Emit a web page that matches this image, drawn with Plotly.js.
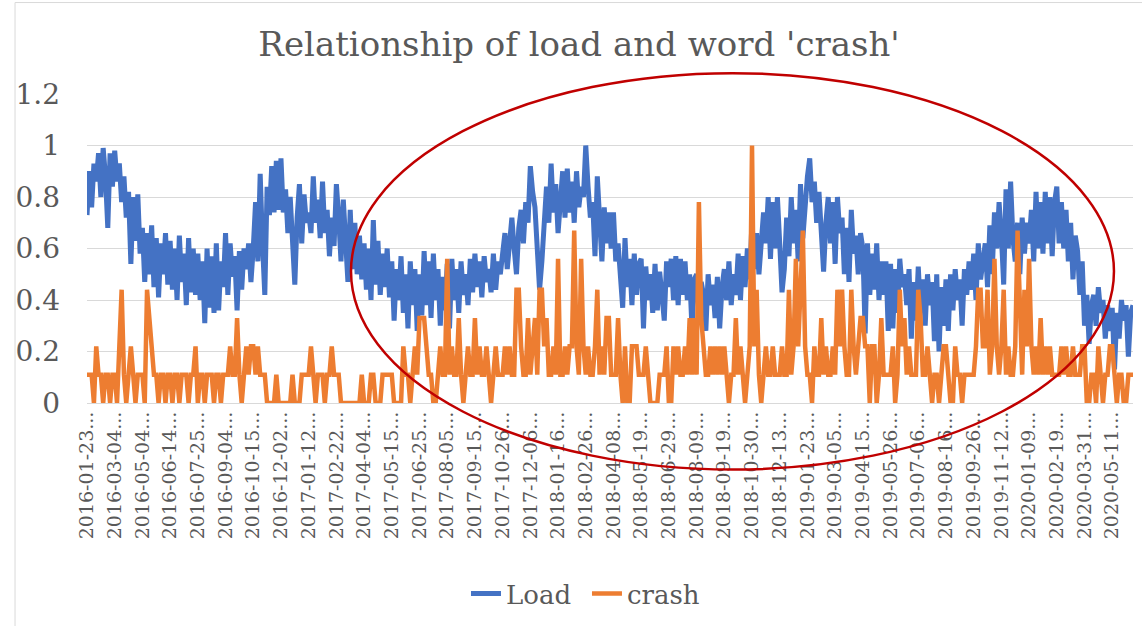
<!DOCTYPE html>
<html><head><meta charset="utf-8">
<script src="https://cdn.plot.ly/plotly-3.0.1.min.js"></script>
<style>html,body{margin:0;padding:0;background:#fff}</style>
</head><body><div id="chart" style="width:1142px;height:626px"></div>
<script>
const tickLabels = [
 '2016-01-23','2016-03-04','2016-05-04','2016-06-14','2016-07-25','2016-09-04','2016-10-15','2016-12-02',
 '2017-01-12','2017-02-22','2017-04-04','2017-05-15','2017-06-25','2017-08-05','2017-09-15','2017-10-26','2017-12-06',
 '2018-01-16','2018-02-26','2018-04-08','2018-05-19','2018-06-29','2018-08-09','2018-09-19','2018-10-30','2018-12-13',
 '2019-01-23','2019-03-05','2019-04-15','2019-05-26','2019-07-06','2019-08-16','2019-09-26','2019-11-12',
 '2020-01-09','2020-02-19','2020-03-31','2020-05-11'
];
const pointsPerLabel = 12;

const load = [
 0.73,0.90,0.76,0.93,0.86,0.97,0.80,0.99,0.88,0.68,0.97,0.84,
 0.98,0.86,0.93,0.78,0.88,0.72,0.82,0.54,0.80,0.63,0.81,0.58,
 0.68,0.47,0.66,0.50,0.69,0.45,0.64,0.41,0.62,0.50,0.66,0.46,
 0.63,0.44,0.60,0.40,0.65,0.47,0.58,0.38,0.64,0.43,0.60,0.42,
 0.58,0.40,0.55,0.31,0.60,0.37,0.57,0.35,0.62,0.36,0.55,0.45,
 0.66,0.42,0.62,0.49,0.57,0.36,0.59,0.44,0.60,0.52,0.62,0.47,
 0.60,0.78,0.55,0.89,0.62,0.42,0.84,0.73,0.92,0.74,0.94,0.75,
 0.95,0.74,0.83,0.66,0.80,0.60,0.46,0.72,0.85,0.62,0.81,0.70,
 0.74,0.66,0.88,0.70,0.79,0.64,0.86,0.66,0.75,0.57,0.72,0.61,
 0.85,0.72,0.55,0.79,0.62,0.47,0.75,0.52,0.70,0.50,0.65,0.48,
 0.62,0.44,0.60,0.40,0.71,0.46,0.63,0.42,0.58,0.45,0.60,0.41,
 0.55,0.32,0.52,0.40,0.57,0.35,0.50,0.29,0.55,0.38,0.52,0.28,
 0.50,0.34,0.59,0.38,0.55,0.33,0.58,0.40,0.52,0.30,0.49,0.36,
 0.54,0.29,0.56,0.40,0.52,0.35,0.55,0.42,0.50,0.38,0.56,0.43,
 0.58,0.45,0.55,0.41,0.57,0.47,0.52,0.43,0.58,0.44,0.55,0.50,
 0.58,0.66,0.52,0.64,0.72,0.60,0.50,0.68,0.75,0.62,0.78,0.70,
 0.92,0.82,0.76,0.60,0.44,0.55,0.72,0.84,0.70,0.93,0.74,0.85,
 0.66,0.82,0.90,0.72,0.91,0.74,0.86,0.70,0.90,0.76,0.84,0.80,
 1.00,0.84,0.72,0.78,0.57,0.88,0.70,0.55,0.76,0.62,0.74,0.60,
 0.74,0.55,0.62,0.48,0.37,0.64,0.45,0.56,0.38,0.58,0.42,0.54,
 0.56,0.29,0.53,0.40,0.50,0.35,0.54,0.36,0.51,0.42,0.32,0.55,
 0.45,0.56,0.40,0.57,0.38,0.56,0.42,0.55,0.40,0.50,0.29,0.48,
 0.50,0.35,0.47,0.42,0.28,0.50,0.38,0.46,0.33,0.49,0.29,0.45,
 0.52,0.40,0.55,0.38,0.50,0.42,0.58,0.40,0.57,0.45,0.60,0.48,
 0.71,0.52,0.66,0.50,0.60,0.74,0.62,0.80,0.56,0.78,0.60,0.80,
 0.62,0.43,0.52,0.72,0.57,0.80,0.62,0.75,0.55,0.85,0.64,0.80,
 0.88,0.95,0.78,0.86,0.70,0.82,0.62,0.51,0.70,0.80,0.62,0.78,
 0.54,0.80,0.66,0.72,0.50,0.68,0.47,0.75,0.58,0.65,0.50,0.66,
 0.60,0.27,0.62,0.42,0.58,0.44,0.62,0.40,0.55,0.42,0.55,0.28,
 0.54,0.29,0.52,0.35,0.56,0.45,0.50,0.38,0.52,0.25,0.47,0.32,
 0.53,0.35,0.48,0.30,0.50,0.38,0.47,0.24,0.50,0.20,0.45,0.30,
 0.48,0.28,0.50,0.36,0.52,0.40,0.48,0.30,0.52,0.42,0.55,0.44,
 0.58,0.40,0.62,0.48,0.55,0.62,0.45,0.69,0.50,0.74,0.60,0.78,
 0.65,0.46,0.83,0.60,0.86,0.64,0.55,0.70,0.50,0.72,0.58,0.70,
 0.62,0.75,0.55,0.82,0.60,0.78,0.58,0.82,0.62,0.80,0.57,0.78,
 0.84,0.62,0.78,0.60,0.75,0.55,0.70,0.48,0.65,0.59,0.42,0.55,
 0.30,0.42,0.23,0.38,0.42,0.30,0.45,0.35,0.40,0.25,0.38,0.28,
 0.37,0.13,0.35,0.25,0.40,0.32,0.38,0.18,0.35,0.38
];

const crash = [
 0.11,0.11,0.11,0,0.22,0.11,0.11,0,0.11,0.11,0,0.11,
 0.11,0,0.22,0.44,0.11,0,0.11,0.22,0.11,0,0.11,0.11,
 0.11,0,0.44,0.33,0.22,0.11,0.11,0,0.11,0.11,0,0.11,
 0.11,0,0.11,0.11,0,0.11,0.11,0.11,0,0.11,0.11,0.22,
 0,0.11,0.11,0,0.11,0.11,0.11,0,0.11,0.11,0,0.11,
 0.11,0.11,0.22,0.11,0.11,0.33,0.11,0,0.11,0.22,0.11,0.22,
 0.22,0.11,0.22,0.11,0.11,0.11,0,0,0,0,0.11,0,
 0,0,0,0,0,0.11,0,0,0,0.11,0.11,0.11,
 0.11,0.22,0.11,0,0.11,0.11,0.11,0,0.11,0.11,0.22,0.11,
 0.11,0.11,0,0,0,0,0,0,0,0,0,0.11,
 0,0,0,0.11,0.11,0,0,0,0.11,0.11,0.11,0.11,
 0.11,0,0,0,0,0.22,0.11,0.11,0,0.11,0.22,0.11,
 0.33,0.33,0.33,0.22,0.11,0.11,0,0,0.11,0.22,0.11,0.11,
 0.56,0.11,0.22,0.11,0.11,0.33,0.11,0,0.11,0.22,0.11,0.11,
 0.33,0.11,0.22,0.11,0.11,0.22,0.11,0,0.11,0.22,0.11,0.11,
 0.11,0.22,0.11,0.22,0.11,0.11,0.44,0.44,0.22,0.11,0.11,0.33,
 0.11,0.22,0.33,0.11,0.44,0.44,0.22,0.33,0.11,0.11,0.22,0.11,
 0.56,0.11,0.11,0.22,0.11,0.22,0.22,0.67,0.22,0.11,0.56,0.22,
 0.11,0.22,0.11,0.11,0.22,0.44,0.11,0.22,0.11,0.33,0.33,0.11,
 0.11,0.11,0.33,0.11,0,0.22,0,0,0.22,0.22,0.22,0.11,
 0.11,0.11,0.22,0.11,0,0,0,0,0.11,0.11,0.11,0.22,
 0,0,0.22,0.11,0.22,0.11,0.11,0.22,0.11,0.33,0.11,0.33,
 0.11,0.78,0.33,0.22,0.11,0.11,0.22,0.11,0.22,0.11,0.22,0.11,
 0.22,0.11,0,0.11,0.11,0.33,0.11,0.22,0.11,0,0.11,0.22,
 1.0,0.22,0.44,0.11,0,0.11,0.22,0.11,0.11,0.22,0.11,0.11,
 0.11,0.22,0.11,0.11,0.44,0.11,0.22,0.56,0.22,0.44,0.67,0.22,
 0.11,0.11,0,0.22,0.11,0.11,0.33,0.11,0.22,0.11,0.11,0.22,
 0.11,0.44,0.22,0.44,0.22,0.11,0.11,0.44,0.22,0.11,0.22,0.33,
 0.33,0.22,0.22,0,0.22,0.22,0,0.11,0.33,0.11,0.11,0.11,
 0.11,0.22,0,0.11,0.44,0.22,0.33,0.11,0.22,0.11,0.11,0.11,
 0.44,0.33,0.11,0.11,0.22,0.11,0,0.11,0.11,0,0.11,0.22,
 0.22,0.11,0,0,0.22,0.11,0.11,0,0.11,0.11,0.11,0.11,
 0.11,0.22,0.44,0.44,0.22,0.22,0.44,0.11,0.22,0.56,0.22,0.11,
 0.22,0.44,0.11,0.22,0.11,0.11,0.22,0.67,0.33,0.11,0.44,0.22,
 0.56,0.22,0.11,0.22,0.11,0.33,0.11,0.22,0.11,0.22,0.11,0.11,
 0.11,0.11,0.22,0.11,0.22,0.11,0.11,0.22,0.11,0.11,0.11,0.22,
 0.22,0,0,0.11,0.11,0,0.22,0.11,0,0.11,0.11,0.22,
 0.22,0.11,0,0.11,0.11,0,0,0.11,0.11,0.11
];

const xIdx = load.map((_, i) => i);
const tickvals = tickLabels.map((_, k) => k * pointsPerLabel);
const ticktext = tickLabels.map(t => t + '...');

const FONT = 'DejaVu Serif';
const GRAY = '#595959';

const traces = [
  {x: xIdx, y: load, type: 'scatter', mode: 'lines', name: 'Load',
   line: {color: '#4472C4', width: 5}},
  {x: xIdx, y: crash, type: 'scatter', mode: 'lines', name: 'crash',
   line: {color: '#ED7D31', width: 4.5}}
];

const layout = {
  width: 1142, height: 626,
  margin: {l: 87, r: 9, t: 94, b: 221},
  paper_bgcolor: '#ffffff', plot_bgcolor: '#ffffff',
  font: {family: FONT, color: GRAY},
  title: {text: "Relationship of load and word 'crash'", font: {family: FONT, size: 34, color: GRAY},
          x: 0.507, xanchor: 'center', y: 0.93, yanchor: 'middle'},
  showlegend: true,
  legend: {orientation: 'h', x: 0.478, xanchor: 'center', y: -0.617, yanchor: 'middle',
           font: {family: FONT, size: 26, color: GRAY}, itemwidth: 30, tracegroupgap: 0,
           entrywidth: 76},
  xaxis: {
    range: [0, load.length - 1], showgrid: false, zeroline: false,
    showline: true, linecolor: '#D9D9D9', linewidth: 1,
    tickmode: 'array', tickvals: tickvals, ticktext: ticktext, tickangle: -90,
    ticks: '', tickfont: {family: FONT, size: 19, color: GRAY}, ticklabelstandoff: 0
  },
  yaxis: {
    range: [0, 1.2], dtick: 0.2, tick0: 0, showgrid: true, gridcolor: '#D9D9D9', gridwidth: 1,
    zeroline: true, zerolinecolor: '#D9D9D9', showline: false, ticks: '',
    tickfont: {family: FONT, size: 28, color: GRAY}, ticklabelstandoff: 26
  },
  shapes: [
    {type: 'circle', xref: 'paper', yref: 'paper', x0: 0.2524, x1: 0.9818, y0: -0.2154, y1: 1.0675,
     line: {color: '#C00000', width: 2.5}, layer: 'above'},
    {type: 'line', xref: 'paper', yref: 'paper', x0: -0.0688, x1: 1.2, y0: 1.296, y1: 1.296,
     line: {color: '#D9D9D9', width: 1}},
    {type: 'line', xref: 'paper', yref: 'paper', x0: -0.0688, x1: -0.0688, y0: -1, y1: 1.296,
     line: {color: '#D9D9D9', width: 1}}
  ]
};

Plotly.newPlot('chart', traces, layout, {displayModeBar: false, staticPlot: true});
</script>
</body></html>
